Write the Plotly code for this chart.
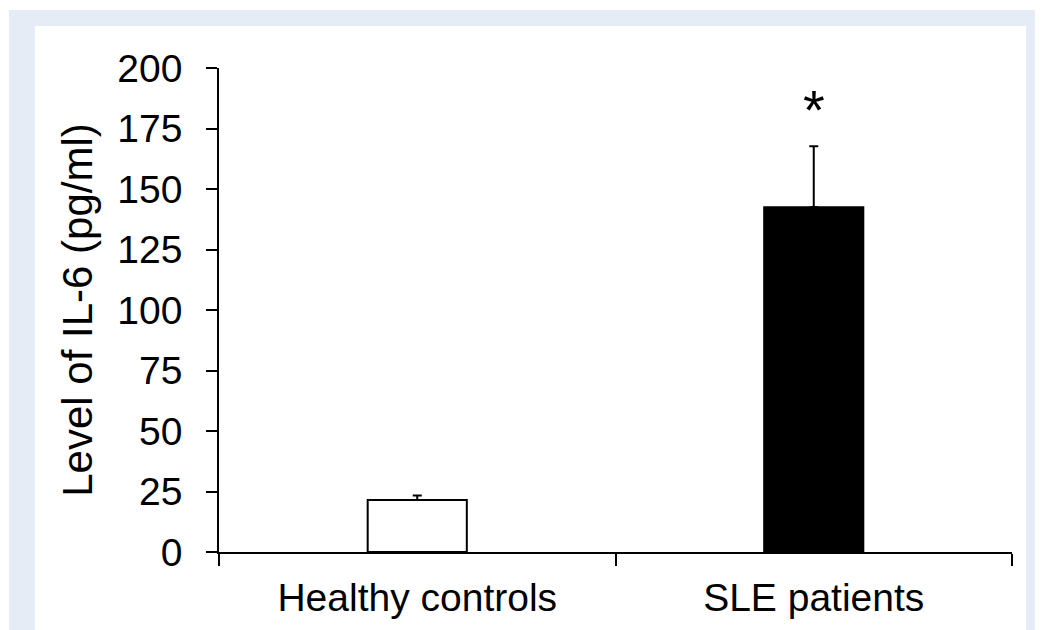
import plotly.graph_objects as go

categories = ["Healthy controls", "SLE patients"]
il6_means = [21.5, 142.5]
il6_errors = [1.8, 25.2]
bar_colors = ["white", "black"]
sig_marks = ["", "*"]
y_ticks = [0, 25, 50, 75, 100, 125, 150, 175, 200]

OFF = 8  # default page body margin
W, H = 1043 - OFF, 630 - OFF
L, R, T, B = 219 - OFF, 31, 68 - OFF, 78
pw, ph = W - L - R, H - T - B


def px_x(p):
    return (p - OFF - L) / pw


def px_y(p):
    return (H - B - (p - OFF)) / ph


FONT = "Liberation Sans, Arial, sans-serif"

fig = go.Figure()
fig.add_trace(go.Bar(
    x=categories,
    y=il6_means,
    width=0.25,
    marker=dict(color=bar_colors, line=dict(color="black", width=2)),
    error_y=dict(type="data", array=il6_errors, arrayminus=[0] * len(il6_errors),
                 symmetric=False, color="black", thickness=2, width=4.5),
    showlegend=False,
))

for c, m, e, s in zip(categories, il6_means, il6_errors, sig_marks):
    if s:
        fig.add_annotation(x=c, y=m + e + 17, text=s, showarrow=False,
                           font=dict(family=FONT, size=56, color="black"),
                           xanchor="center", yanchor="middle", yshift=-4)

shapes = [
    dict(type="rect", xref="paper", yref="paper", layer="below",
         x0=px_x(9), x1=px_x(1050), y0=px_y(640), y1=px_y(10),
         fillcolor="#e5ecf6", line=dict(width=0)),
    dict(type="rect", xref="paper", yref="paper", layer="below",
         x0=px_x(35), x1=px_x(1026), y0=px_y(640), y1=px_y(26),
         fillcolor="white", line=dict(width=0)),
]

fig.update_layout(
    width=W, height=H,
    margin=dict(l=L, r=R, t=T, b=B, pad=0),
    paper_bgcolor="white",
    plot_bgcolor="rgba(0,0,0,0)",
    shapes=shapes,
    font=dict(family=FONT, color="black", size=39),
    xaxis=dict(type="category", range=[-0.5, 1.5], showline=True, linecolor="black",
               linewidth=1.5, ticks="outside", tickson="boundaries", ticklen=12,
               tickwidth=1.5, tickcolor="black", showgrid=False, zeroline=False,
               ticklabelstandoff=10,
               tickfont=dict(size=39, family=FONT, color="black")),
    yaxis=dict(range=[0, 200], tickvals=y_ticks, showline=True, linecolor="black",
               linewidth=1.5, ticks="outside", ticklen=11, tickwidth=1.5,
               tickcolor="black", showgrid=False, zeroline=False,
               ticklabelstandoff=16,
               tickfont=dict(size=39, family=FONT, color="black"),
               title=dict(text="Level of IL-6 (pg/ml)", standoff=12,
                          font=dict(size=42, family=FONT, color="black"))),
)

fig.write_html("out.html")
